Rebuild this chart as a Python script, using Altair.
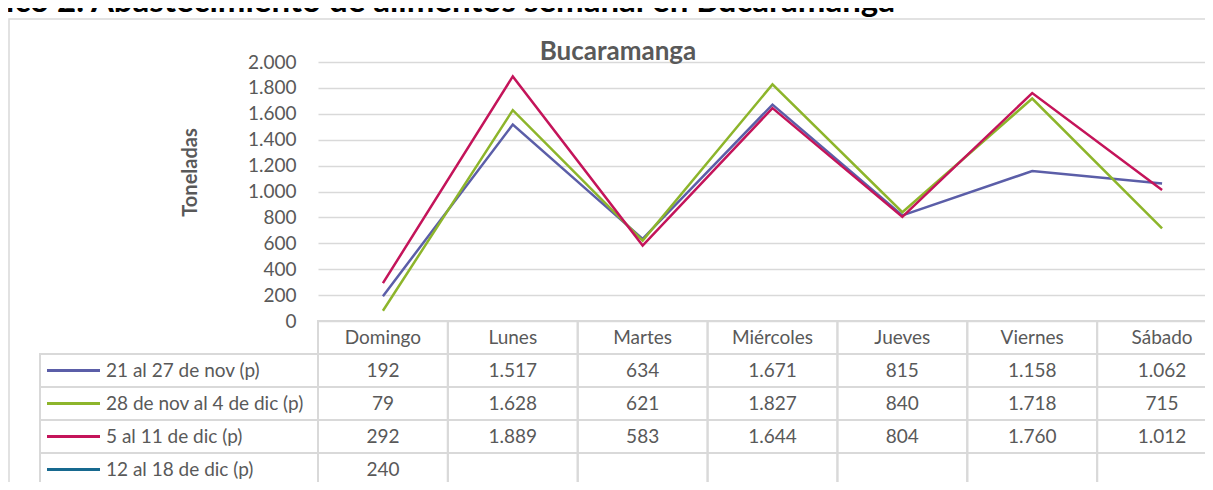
import altair as alt
import pandas as pd

# ---------------- data ----------------
days = ["Domingo", "Lunes", "Martes", "Miércoles", "Jueves", "Viernes", "Sábado"]
series = ["21 al 27 de nov (p)", "28 de nov al 4 de dic (p)", "5 al 11 de dic (p)", "12 al 18 de dic (p)"]
colors = ["#5b5ea8", "#8db52b", "#c4145a", "#17698f"]
s1 = [192, 1517, 634, 1671, 815, 1158, 1062]
s2 = [79, 1628, 621, 1827, 840, 1718, 715]
s3 = [292, 1889, 583, 1644, 804, 1760, 1012]
s4 = [240, None, None, None, None, None, None]
y_ticks = [0, 200, 400, 600, 800, 1000, 1200, 1400, 1600, 1800, 2000]

page_title = "Gráfico 2. Abastecimiento de alimentos semanal en Bucaramanga"
chart_title = "Bucaramanga"
y_title = "Toneladas"

# ---------------- tables built from the arrays ----------------
values = [s1, s2, s3, s4]
long_rows = []
for name, vals in zip(series, values):
    for d, v in zip(days, vals):
        long_rows.append({"series": name, "row": name, "day": d, "value": v})
df = pd.DataFrame(long_rows)
df_lines = df[df["value"].notna()].copy()

header_rows = pd.DataFrame({"series": None, "row": "header", "day": days, "value": None})
cells = pd.concat([header_rows, df], ignore_index=True)
legend_df = pd.DataFrame({"series": series, "row": series})

rows = ["header"] + series

# ---------------- layout constants ----------------
W, H = 887, 259
GRAY = "#595959"
LINE = "#d9d9d9"
FONT = "Lato"
FS = 19

x_scale = alt.Scale(type="band", domain=days, range=[0, 909], paddingInner=0, paddingOuter=0)
row_scale = alt.Scale(type="band", domain=rows, range=[259, 424], paddingInner=0, paddingOuter=0)
color_scale = alt.Scale(domain=series, range=colors)
fmt = "replace(format(datum.value, ','), ',', '.')"

# outer chart frame
frame = alt.Chart(pd.DataFrame({"k": [0]})).mark_rect(
    fillOpacity=0, stroke=LINE, strokeWidth=1.5
).encode(
    x=alt.value(-309), x2=alt.value(W + 30), y=alt.value(-43), y2=alt.value(H + 200)
)

# data lines with y axis / gridlines
lines = alt.Chart(df_lines).mark_line(strokeWidth=2.5).encode(
    x=alt.X("day:N", scale=x_scale, sort=days, bandPosition=0.5, axis=None),
    y=alt.Y(
        "value:Q",
        scale=alt.Scale(domain=[0, 2000], nice=False),
        axis=alt.Axis(
            values=y_ticks,
            labelExpr=fmt,
            grid=True,
            gridColor=LINE,
            gridWidth=1.5,
            domain=False,
            ticks=False,
            labelPadding=22,
            labelFont=FONT,
            labelFontSize=FS,
            labelColor=GRAY,
            title=y_title,
            titleFont=FONT,
            titleFontSize=20,
            titleFontWeight="bold",
            titleColor=GRAY,
            titleAngle=270,
            titleX=-128,
            titleY=110,
            titleAlign="center",
            titleBaseline="middle",
        ),
    ),
    color=alt.Color("series:N", scale=color_scale, legend=None),
)

# table
cell_rects = alt.Chart(cells).mark_rect(fillOpacity=0, stroke=LINE, strokeWidth=2).encode(
    x=alt.X("day:N", scale=x_scale, sort=days, axis=None),
    y=alt.Y("row:N", scale=row_scale, sort=rows, axis=None),
)
legend_rects = alt.Chart(legend_df).mark_rect(fillOpacity=0, stroke=LINE, strokeWidth=2).encode(
    x=alt.value(-278), x2=alt.value(0),
    y=alt.Y("row:N", scale=row_scale, sort=rows, axis=None),
)
cell_text = alt.Chart(cells).transform_calculate(
    label="datum.row == 'header' ? datum.day : (isValid(datum.value) ? " + fmt + " : '')"
).mark_text(font=FONT, fontSize=FS, color=GRAY, baseline="middle", align="center").encode(
    x=alt.X("day:N", scale=x_scale, sort=days, bandPosition=0.5, axis=None),
    y=alt.Y("row:N", scale=row_scale, sort=rows, bandPosition=0.5, axis=None),
    text="label:N",
)
legend_lines = alt.Chart(legend_df).mark_rule(strokeWidth=3).encode(
    x=alt.value(-271), x2=alt.value(-218),
    y=alt.Y("row:N", scale=row_scale, sort=rows, bandPosition=0.5, axis=None),
    color=alt.Color("series:N", scale=color_scale, legend=None),
)
legend_text = alt.Chart(legend_df).mark_text(
    font=FONT, fontSize=FS, color=GRAY, baseline="middle", align="left"
).encode(
    x=alt.value(-212),
    y=alt.Y("row:N", scale=row_scale, sort=rows, bandPosition=0.5, axis=None),
    text="series:N",
)
table = alt.layer(cell_rects, legend_rects, cell_text, legend_lines, legend_text)

# titles
title_mark = alt.Chart(pd.DataFrame({"k": [0]})).mark_text(
    text=chart_title, font=FONT, fontSize=26, fontWeight="bold", color=GRAY,
    align="center", baseline="alphabetic"
).encode(x=alt.value(300), y=alt.value(-2))

page_title_mark = alt.Chart(pd.DataFrame({"k": [0]})).mark_text(
    text=page_title, font=FONT, fontSize=33, fontWeight="bold", color="#000000",
    align="right", baseline="alphabetic"
).encode(x=alt.value(577), y=alt.value(-50))

chart = alt.layer(frame, lines, table, title_mark, page_title_mark).resolve_scale(
    y="independent"
).properties(
    width=W,
    height=H,
    padding={"left": 310, "top": 54, "right": 0, "bottom": 161},
    autosize=alt.AutoSizeParams(type="none"),
).configure_view(stroke=None)

chart.save("out.html", embed_options={"renderer": "svg", "actions": False})
